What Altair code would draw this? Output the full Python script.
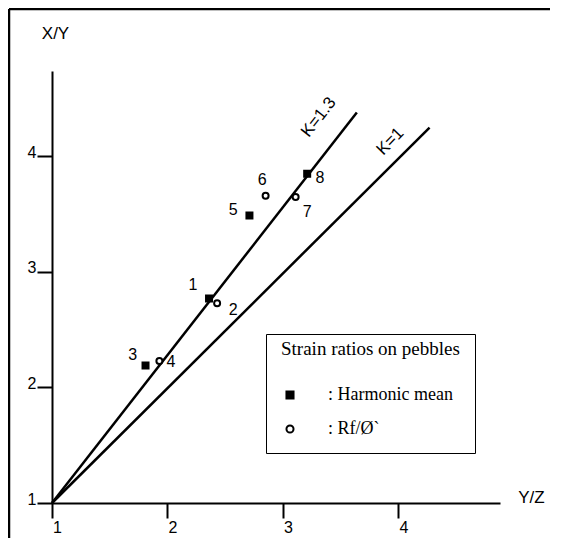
import altair as alt
import pandas as pd

# ---- data ----
# Harmonic mean (filled squares)
hm_id = ["1", "3", "5", "8"]
hm_yz = [2.36, 1.81, 2.71, 3.21]
hm_xy = [2.77, 2.19, 3.49, 3.85]

# Rf/Ø (open circles)
rf_id = ["2", "4", "6", "7"]
rf_yz = [2.43, 1.93, 2.85, 3.11]
rf_xy = [2.73, 2.23, 3.66, 3.65]

series_names = ["Harmonic mean", "Rf/Ø`"]

# point number labels
label_text = ["1", "2", "3", "4", "5", "6", "7", "8"]
label_yz = [2.22, 2.57, 1.70, 2.03, 2.57, 2.82, 3.21, 3.32]
label_xy = [2.89, 2.67, 2.28, 2.22, 3.54, 3.80, 3.52, 3.81]

# K reference lines (start at origin 1,1)
k_names = ["K=1.3", "K=1"]
k_yz_end = [3.64, 4.27]
k_xy_end = [4.38, 4.25]
k_label_yz = [3.31, 3.93]
k_label_xy = [4.34, 4.13]

ticks = [1, 2, 3, 4]
x_domain = [1, 4.88]
y_domain = [1, 4.74]

FONT = "Liberation Sans"
SERIF = "Liberation Serif"

# ---- tables ----
pts = pd.DataFrame({
    "yz": hm_yz + rf_yz,
    "xy": hm_xy + rf_xy,
    "series": [series_names[0]] * len(hm_yz) + [series_names[1]] * len(rf_yz),
})
labels = pd.DataFrame({"t": label_text, "yz": label_yz, "xy": label_xy})
lines = pd.DataFrame({
    "k": [k for k in k_names for _ in range(2)],
    "yz": [v for e in k_yz_end for v in (1, e)],
    "xy": [v for e in k_xy_end for v in (1, e)],
    "o": [0, 1] * len(k_names),
})
klab = pd.DataFrame({"k": k_names, "yz": k_label_yz, "xy": k_label_xy})

xs = alt.Scale(domain=x_domain, nice=False, zero=False)
ys = alt.Scale(domain=y_domain, nice=False, zero=False)

x_axis = alt.Axis(
    values=ticks, format="d", title="Y/Z", titleAngle=0, titleX=479, titleY=-6,
    titleAlign="center", titleBaseline="middle", titleFont=FONT,
    titleFontSize=17, titleFontWeight="normal", titleColor="black",
    labelFont=FONT, labelFontSize=16, labelColor="black", labelOffset=5,
    labelPadding=1, labelFlush=False, labelOverlap=False,
    tickSize=15, tickWidth=2, tickColor="black",
    domainWidth=2, domainColor="black", grid=False,
)
y_axis = alt.Axis(
    values=ticks, format="d", title="X/Y", titleAngle=0, titleX=3, titleY=-38,
    titleAlign="center", titleBaseline="middle", titleFont=FONT,
    titleFontSize=17, titleFontWeight="normal", titleColor="black",
    labelFont=FONT, labelFontSize=16, labelColor="black", labelOffset=-4,
    labelPadding=1, labelFlush=False, labelOverlap=False,
    tickSize=15, tickWidth=2, tickColor="black",
    domainWidth=2, domainColor="black", grid=False,
)

legend = alt.Legend(
    title="Strain ratios on pebbles", orient="none", legendX=214, legendY=263,
    strokeColor="black", fillColor="white", padding=15,
    titleFont=SERIF, titleFontSize=19, titleFontWeight="normal",
    titleColor="black", titleBaseline="middle", titlePadding=18,
    labelFont=SERIF, labelFontSize=18, labelColor="black", labelOffset=29,
    labelExpr="': ' + datum.label", rowPadding=16,
    symbolSize=50, symbolStrokeWidth=2,
)

lines_layer = alt.Chart(lines).mark_line(color="black", strokeWidth=2.5).encode(
    x=alt.X("yz:Q", scale=xs, axis=x_axis),
    y=alt.Y("xy:Q", scale=ys, axis=y_axis),
    detail="k:N",
    order="o:Q",
)

pts_layer = alt.Chart(pts).mark_point(
    filled=True, size=36, strokeWidth=2, opacity=1
).encode(
    x=alt.X("yz:Q", scale=xs),
    y=alt.Y("xy:Q", scale=ys),
    shape=alt.Shape("series:N", scale=alt.Scale(domain=series_names, range=["square", "circle"]), legend=legend),
    fill=alt.Fill("series:N", scale=alt.Scale(domain=series_names, range=["black", "white"]), legend=legend),
    stroke=alt.Stroke("series:N", scale=alt.Scale(domain=series_names, range=["black", "black"]), legend=legend),
)

num_layer = alt.Chart(labels).mark_text(
    font=FONT, fontSize=16, color="black", align="center", baseline="middle"
).encode(x=alt.X("yz:Q", scale=xs), y=alt.Y("xy:Q", scale=ys), text="t:N")

k13 = alt.Chart(klab).transform_filter(alt.datum.k == k_names[0]).mark_text(
    font=FONT, fontSize=17, color="black", align="center", baseline="middle", angle=308
).encode(x=alt.X("yz:Q", scale=xs), y=alt.Y("xy:Q", scale=ys), text="k:N")

k1 = alt.Chart(klab).transform_filter(alt.datum.k == k_names[1]).mark_text(
    font=FONT, fontSize=17, color="black", align="center", baseline="middle", angle=314
).encode(x=alt.X("yz:Q", scale=xs), y=alt.Y("xy:Q", scale=ys), text="k:N")

frame_df = pd.DataFrame({"f": [0]})
frame_left = alt.Chart(frame_df).mark_rule(color="black", strokeWidth=2.5).encode(
    x=alt.value(-43), y=alt.value(-62), y2=alt.value(470)
)
frame_top = alt.Chart(frame_df).mark_rule(color="black", strokeWidth=2.5).encode(
    x=alt.value(-43), x2=alt.value(500), y=alt.value(-62)
)

chart = alt.layer(
    frame_left, frame_top, lines_layer, pts_layer, num_layer, k13, k1
).properties(
    width=448, height=432,
    autosize=alt.AutoSizeParams(type="none"),
    padding={"left": 44, "top": 63, "right": 50, "bottom": 35},
    background="white",
).configure_view(stroke=None)

chart.save("out.html", embed_options={"renderer": "svg", "actions": False})
